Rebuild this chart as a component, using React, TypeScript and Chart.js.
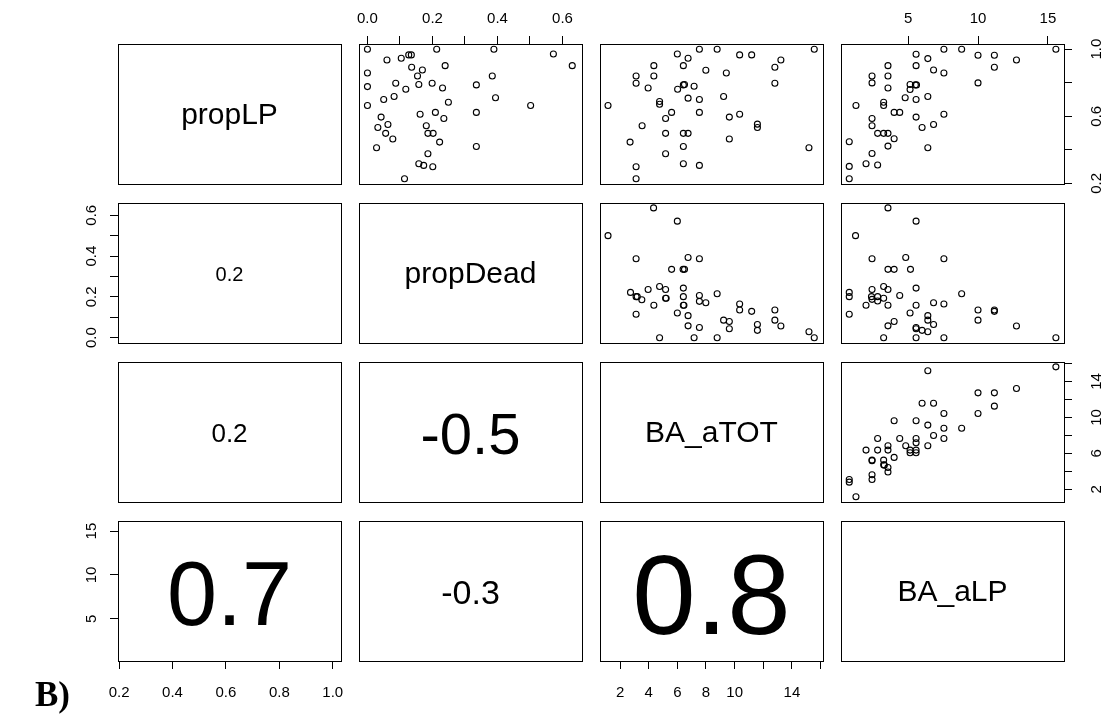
import React, { useEffect, useRef } from "react";
import { Chart, registerables } from "chart.js";
Chart.register(...registerables);

const FONT = "'Liberation Sans', Arial, Helvetica, sans-serif";

// ---------------- data ----------------
const varNames = ["propLP", "propDead", "BA_aTOT", "BA_aLP"];

// panel row1/col2 : x = propDead, y = propLP
const dead_LP_x = [0.0, 0.213, 0.389, 0.572, 0.63, 0.06, 0.104, 0.127, 0.135, 0.136, 0.169, 0.239, 0.0, 0.154, 0.384, 0.0, 0.087, 0.158, 0.199, 0.118, 0.231, 0.335, 0.05, 0.082, 0.394, 0.249, 0.0, 0.502, 0.042, 0.162, 0.209, 0.235, 0.335, 0.032, 0.063, 0.056, 0.078, 0.181, 0.186, 0.202, 0.222, 0.028, 0.335, 0.186, 0.158, 0.173, 0.201, 0.114];
const dead_LP_y = [1.0, 1.0, 1.0, 0.971, 0.902, 0.936, 0.946, 0.966, 0.966, 0.892, 0.876, 0.902, 0.858, 0.84, 0.84, 0.777, 0.797, 0.789, 0.797, 0.761, 0.769, 0.787, 0.7, 0.718, 0.71, 0.684, 0.664, 0.664, 0.595, 0.612, 0.623, 0.587, 0.623, 0.533, 0.551, 0.498, 0.464, 0.543, 0.498, 0.498, 0.446, 0.412, 0.42, 0.376, 0.317, 0.307, 0.299, 0.227];

// panel row1/col3 : x = BA_aTOT, y = propLP
const tot_LP_x = [6.0, 7.54, 8.78, 10.35, 11.19, 15.56, 6.75, 13.23, 4.36, 6.42, 12.81, 3.12, 4.36, 7.99, 9.42, 3.12, 3.96, 6.02, 6.42, 6.5, 7.17, 12.81, 1.16, 4.76, 4.76, 6.75, 7.54, 9.23, 5.6, 5.18, 7.54, 9.63, 10.35, 11.59, 11.59, 3.54, 5.18, 6.42, 6.75, 2.7, 9.63, 6.42, 15.19, 5.18, 3.12, 6.42, 7.54, 3.12];
const tot_LP_y = [0.971, 1.0, 1.0, 0.966, 0.966, 1.0, 0.946, 0.936, 0.902, 0.902, 0.892, 0.84, 0.84, 0.874, 0.858, 0.797, 0.769, 0.761, 0.787, 0.789, 0.779, 0.797, 0.664, 0.688, 0.672, 0.708, 0.7, 0.718, 0.623, 0.587, 0.623, 0.595, 0.612, 0.553, 0.533, 0.543, 0.498, 0.498, 0.498, 0.446, 0.464, 0.42, 0.412, 0.376, 0.299, 0.317, 0.307, 0.227];

// panel row1/col4 : x = BA_aLP, y = propLP
const alp_LP_x = [5.57, 7.56, 8.83, 10.0, 11.17, 15.57, 6.41, 12.75, 3.56, 5.57, 11.17, 6.82, 7.56, 2.42, 3.56, 2.42, 5.14, 5.52, 5.6, 10.0, 3.56, 5.14, 1.27, 3.25, 3.25, 4.79, 5.57, 6.41, 4.0, 4.4, 2.42, 5.57, 7.56, 2.42, 6.0, 6.82, 2.82, 3.25, 3.56, 4.0, 0.79, 3.56, 6.41, 2.42, 1.99, 2.82, 0.79, 0.79];
const alp_LP_y = [0.97, 1.0, 1.0, 0.964, 0.964, 1.0, 0.944, 0.936, 0.902, 0.902, 0.892, 0.876, 0.858, 0.84, 0.84, 0.799, 0.789, 0.787, 0.787, 0.799, 0.769, 0.76, 0.664, 0.684, 0.664, 0.71, 0.7, 0.718, 0.623, 0.623, 0.587, 0.595, 0.612, 0.543, 0.533, 0.551, 0.498, 0.498, 0.498, 0.466, 0.448, 0.422, 0.412, 0.378, 0.317, 0.309, 0.301, 0.227];

// panel row2/col3 : x = BA_aTOT, y = propDead
const tot_dead_x = [4.34, 6.0, 1.16, 3.12, 6.75, 7.54, 5.6, 6.4, 6.5, 2.73, 3.12, 3.2, 3.52, 3.96, 4.76, 5.18, 5.18, 5.22, 6.42, 6.42, 6.42, 6.46, 4.36, 7.54, 7.54, 7.99, 8.78, 3.12, 6.0, 6.75, 6.75, 7.54, 4.76, 7.17, 8.78, 9.23, 9.63, 9.63, 10.35, 10.35, 11.19, 11.59, 11.59, 12.81, 12.81, 13.23, 15.19, 15.56];
const tot_dead_y = [0.636, 0.571, 0.5, 0.387, 0.393, 0.387, 0.335, 0.335, 0.335, 0.222, 0.201, 0.201, 0.186, 0.236, 0.251, 0.236, 0.193, 0.193, 0.243, 0.201, 0.159, 0.159, 0.159, 0.207, 0.178, 0.171, 0.215, 0.115, 0.121, 0.108, 0.058, 0.05, 0.0, 0.0, 0.0, 0.086, 0.079, 0.044, 0.165, 0.136, 0.129, 0.065, 0.036, 0.136, 0.086, 0.057, 0.029, 0.0];

// panel row2/col4 : x = BA_aLP, y = propDead
const alp_dead_x = [3.56, 5.57, 1.24, 2.42, 4.83, 7.56, 3.56, 4.0, 5.17, 0.79, 0.79, 2.42, 3.25, 3.56, 5.57, 2.38, 2.42, 2.82, 2.82, 3.25, 4.4, 1.99, 3.56, 5.57, 6.82, 7.56, 8.83, 0.79, 5.14, 6.41, 4.0, 3.56, 5.57, 5.57, 6.0, 6.41, 6.41, 6.82, 3.25, 5.57, 7.56, 15.57, 10.0, 10.0, 11.17, 11.17, 12.75];
const alp_dead_y = [0.636, 0.571, 0.5, 0.387, 0.393, 0.387, 0.335, 0.335, 0.335, 0.222, 0.201, 0.236, 0.251, 0.236, 0.243, 0.201, 0.188, 0.201, 0.18, 0.193, 0.207, 0.159, 0.159, 0.159, 0.171, 0.165, 0.215, 0.115, 0.121, 0.108, 0.079, 0.058, 0.05, 0.044, 0.036, 0.029, 0.086, 0.065, 0.0, 0.0, 0.0, 0.0, 0.136, 0.086, 0.136, 0.129, 0.057];

// panel row3/col4 : x = BA_aLP, y = BA_aTOT
const alp_tot_x = [15.57, 6.41, 12.75, 10.0, 11.17, 11.17, 6.0, 6.82, 7.56, 10.0, 4.0, 5.57, 6.41, 7.56, 8.83, 6.82, 7.56, 2.82, 4.4, 5.57, 5.57, 3.56, 4.83, 6.41, 1.99, 2.82, 3.56, 5.14, 5.57, 5.14, 5.57, 4.0, 2.42, 2.42, 3.25, 3.25, 3.3, 3.56, 3.56, 2.42, 2.42, 0.79, 0.79, 1.27];
const alp_tot_y = [15.63, 15.19, 13.22, 12.74, 12.74, 11.26, 11.59, 11.59, 10.44, 10.44, 9.63, 9.63, 9.15, 8.81, 8.81, 8.0, 7.67, 7.67, 7.67, 7.67, 7.19, 6.85, 6.85, 6.85, 6.37, 6.37, 6.37, 6.37, 6.37, 6.07, 6.07, 5.56, 5.26, 5.2, 5.26, 4.74, 4.7, 4.44, 3.93, 3.63, 3.11, 3.11, 2.81, 1.19];

// correlation texts (lower panels)
const corrText = ["0.2", "0.2", "-0.5", "0.7", "-0.3", "0.8"];

// axis limits
const propLPRange = [0.196, 1.031];
const propDeadRange = [-0.026, 0.66];
const BAaTOTRange = [0.6, 16.17];
const BAaLPRange = [0.2, 16.15];
const ranges = [propLPRange, propDeadRange, BAaTOTRange, BAaLPRange];

// ticks & labels
const propLPTicks = [0.2, 0.4, 0.6, 0.8, 1.0];
const propLPBottomLabels = ["0.2", "0.4", "0.6", "0.8", "1.0"];
const propLPRightLabels = ["0.2", "", "0.6", "", "1.0"];
const propDeadTicks = [0, 0.1, 0.2, 0.3, 0.4, 0.5, 0.6];
const propDeadLabels = ["0.0", "", "0.2", "", "0.4", "", "0.6"];
const BAaTOTTicks = [2, 4, 6, 8, 10, 12, 14, 16];
const BAaTOTBottomLabels = ["2", "4", "6", "8", "10", "", "14", ""];
const BAaTOTRightLabels = ["2", "", "6", "", "10", "", "14", ""];
const BAaLPTicks = [5, 10, 15];
const BAaLPLabels = ["5", "10", "15"];

// ---------------- layout ----------------
const COL_LEFT = [118, 359, 600, 841];
const ROW_TOP = [44, 203, 362, 521];
const BOX_W = 223;
const BOX_H = 140;
const M = 50;
const TICK_FONT = 15;

type AxisSpec = { pos: string; ticks: number[]; labels: string[]; pad: number };
type PanelSpec = {
  r: number;
  c: number;
  xs?: number[];
  ys?: number[];
  text?: string;
  size?: number;
  dy?: number;
  xAxis?: AxisSpec;
  yAxis?: AxisSpec;
};

const panels: PanelSpec[] = [
  { r: 0, c: 0, text: varNames[0], size: 30 },
  { r: 0, c: 1, xs: dead_LP_x, ys: dead_LP_y, xAxis: { pos: "top", ticks: propDeadTicks, labels: propDeadLabels, pad: 8.5 } },
  { r: 0, c: 2, xs: tot_LP_x, ys: tot_LP_y },
  {
    r: 0, c: 3, xs: alp_LP_x, ys: alp_LP_y,
    xAxis: { pos: "top", ticks: BAaLPTicks, labels: BAaLPLabels, pad: 8.5 },
    yAxis: { pos: "right", ticks: propLPTicks, labels: propLPRightLabels, pad: 14.6 },
  },
  { r: 1, c: 0, text: corrText[0], size: 20, dy: 1, yAxis: { pos: "left", ticks: propDeadTicks, labels: propDeadLabels, pad: 7.8 } },
  { r: 1, c: 1, text: varNames[1], size: 30 },
  { r: 1, c: 2, xs: tot_dead_x, ys: tot_dead_y },
  { r: 1, c: 3, xs: alp_dead_x, ys: alp_dead_y },
  { r: 2, c: 0, text: corrText[1], size: 26, dy: 1 },
  { r: 2, c: 1, text: corrText[2], size: 58, dy: 2 },
  { r: 2, c: 2, text: varNames[2], size: 30 },
  { r: 2, c: 3, xs: alp_tot_x, ys: alp_tot_y, yAxis: { pos: "right", ticks: BAaTOTTicks, labels: BAaTOTRightLabels, pad: 16.7 } },
  {
    r: 3, c: 0, text: corrText[3], size: 90, dy: 3,
    xAxis: { pos: "bottom", ticks: propLPTicks, labels: propLPBottomLabels, pad: 14.5 },
    yAxis: { pos: "left", ticks: BAaLPTicks, labels: BAaLPLabels, pad: 9.9 },
  },
  { r: 3, c: 1, text: corrText[4], size: 34, dy: 1 },
  { r: 3, c: 2, text: corrText[5], size: 114, dy: 4, xAxis: { pos: "bottom", ticks: BAaTOTTicks, labels: BAaTOTBottomLabels, pad: 14.5 } },
  { r: 3, c: 3, text: varNames[3], size: 30 },
];

const boxPlugin = {
  id: "panelBox",
  afterDraw(chart: any) {
    const { ctx, chartArea } = chart;
    ctx.save();
    ctx.strokeStyle = "#000";
    ctx.lineWidth = 1;
    ctx.strokeRect(
      Math.round(chartArea.left) + 0.5,
      Math.round(chartArea.top) + 0.5,
      Math.round(chartArea.right - chartArea.left),
      Math.round(chartArea.bottom - chartArea.top)
    );
    ctx.restore();
  },
};

function scaleOpts(axis: "x" | "y", range: number[], spec?: AxisSpec) {
  const o: any = {
    type: "linear",
    min: range[0],
    max: range[1],
    display: !!spec,
    position: spec ? spec.pos : axis === "x" ? "bottom" : "left",
    grid: {
      display: true,
      drawOnChartArea: false,
      drawTicks: true,
      tickLength: 8,
      color: "#000",
      lineWidth: 1,
    },
    border: { display: false },
    ticks: {
      autoSkip: false,
      color: "#000",
      font: { family: FONT, size: TICK_FONT },
      padding: spec ? spec.pad : 0,
      minRotation: axis === "y" ? 90 : 0,
      maxRotation: axis === "y" ? 90 : 0,
      crossAlign: axis === "y" ? "center" : "near",
      callback: (_v: any, i: number) => (spec ? spec.labels[i] : ""),
    },
  };
  if (spec) {
    o.afterBuildTicks = (s: any) => {
      s.ticks = spec.ticks.map((v) => ({ value: v }));
    };
    o.afterFit = (s: any) => {
      if (axis === "x") s.height = M;
      else s.width = M;
    };
  }
  return o;
}

function Panel({ p }: { p: PanelSpec }) {
  const ref = useRef<HTMLCanvasElement | null>(null);
  useEffect(() => {
    if (!ref.current) return;
    const datasets: any[] = [];
    if (p.xs && p.ys) {
      datasets.push({
        data: p.xs.map((x, i) => ({ x, y: p.ys![i] })),
        pointRadius: 3,
        pointHoverRadius: 3,
        pointBorderWidth: 1.1,
        pointBackgroundColor: "rgba(0,0,0,0)",
        pointBorderColor: "#000",
        showLine: false,
        clip: false,
      });
    }
    const chart = new Chart(ref.current, {
      type: "scatter",
      data: { datasets },
      options: {
        responsive: false,
        maintainAspectRatio: false,
        animation: false,
        devicePixelRatio: 1,
        events: [],
        layout: {
          padding: {
            left: p.yAxis && p.yAxis.pos === "left" ? 0 : M,
            right: p.yAxis && p.yAxis.pos === "right" ? 0 : M,
            top: p.xAxis && p.xAxis.pos === "top" ? 0 : M,
            bottom: p.xAxis && p.xAxis.pos === "bottom" ? 0 : M,
          },
        },
        scales: {
          x: scaleOpts("x", ranges[p.c], p.xAxis),
          y: scaleOpts("y", ranges[p.r], p.yAxis),
        },
        plugins: { legend: { display: false }, tooltip: { enabled: false } },
      } as any,
      plugins: [boxPlugin],
    });
    return () => chart.destroy();
  }, []);
  const W = BOX_W + 2 * M;
  const H = BOX_H + 2 * M;
  return (
    <>
      <canvas
        ref={ref}
        width={W}
        height={H}
        style={{
          position: "absolute",
          left: COL_LEFT[p.c] - M,
          top: ROW_TOP[p.r] - M,
          width: W,
          height: H,
        }}
      />
      {p.text ? (
        <div
          style={{
            position: "absolute",
            left: COL_LEFT[p.c],
            top: ROW_TOP[p.r],
            width: BOX_W,
            height: BOX_H,
            display: "flex",
            alignItems: "center",
            justifyContent: "center",
            fontFamily: FONT,
            fontSize: p.size,
            lineHeight: 1,
            color: "#000",
            whiteSpace: "nowrap",
            pointerEvents: "none",
          }}
        >
          <span style={{ position: "relative", top: p.dy || 0 }}>{p.text}</span>
        </div>
      ) : null}
    </>
  );
}

export default function App() {
  return (
    <div
      style={{
        position: "absolute",
        left: 0,
        top: 0,
        width: 1104,
        height: 717,
        overflow: "hidden",
        background: "#fff",
      }}
    >
      {panels.map((p) => (
        <Panel key={`${p.r}-${p.c}`} p={p} />
      ))}
      <div
        style={{
          position: "absolute",
          left: 35,
          top: 677,
          fontFamily: "'Liberation Serif', 'Times New Roman', serif",
          fontWeight: "bold",
          fontSize: 35,
          lineHeight: 1,
          color: "#000",
        }}
      >
        B)
      </div>
    </div>
  );
}
